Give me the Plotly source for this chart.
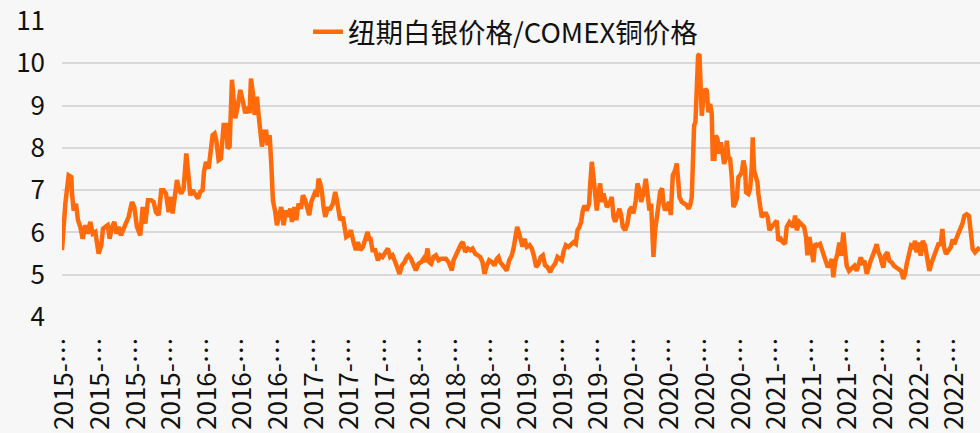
import pandas as pd
import plotly.graph_objects as go

# ---- data: silver / copper price ratio ----
# day offsets (calendar days since the first observation) and ratio values
days_a = [0,10,20,28,30,35,42,48,55,62,70,77,85,92,100,105,110,118,123,130,137,143,150,157,163,170,177,185,192,200,210,217,225,235,242,250,258,268,275,282,290,298,305,312,320,327,332,338,345,352,358,365,373,380,385,392,400,408,415,422,426,432,440,445,452,458]
vals_a = [5.58,6.68,7.35,7.31,6.92,6.52,6.68,6.29,6.13,5.85,6.17,5.97,6.25,5.97,6.01,5.77,5.5,5.7,6.09,6.13,6.17,5.85,6.13,6.25,5.97,6.13,5.93,6.09,6.21,6.37,6.72,6.6,6.13,5.93,6.6,6.21,6.76,6.76,6.72,6.48,6.41,7.0,7.0,6.92,6.48,6.84,6.45,6.84,7.24,7.0,6.92,7.04,7.87,7.31,6.88,7.0,6.92,6.8,6.96,7.0,7.43,7.67,7.51,7.91,8.3,8.34]

days_b = [463,470,477,485,493,497,503,510,515,520,527,535,542,550,557,563,567,573,578,585,590,595,600,607,613,617,623,628,633,640,645,652,658,665,672,678,685,690,697,703,710,717,723,730,735,742,748,755,762,765,770,775,780,785,790,797,805,813,820,825,830,835,843,848,853,860,867,875,882,888,895,903,910,917,923]
vals_b = [8.18,7.71,7.75,8.54,8.54,7.99,8.03,9.61,9.21,8.7,8.97,9.37,9.13,8.82,8.97,8.82,9.64,9.29,8.78,9.21,8.78,8.46,8.03,8.38,8.38,8.06,8.3,7.63,6.76,6.48,6.17,6.41,6.6,6.17,6.52,6.37,6.56,6.25,6.6,6.29,6.68,6.56,6.88,6.76,6.6,6.41,6.72,6.84,7.0,6.84,7.27,7.16,6.96,6.6,6.37,6.56,6.56,6.68,6.96,6.76,6.45,6.29,6.37,6.13,5.89,5.93,6.05,5.77,5.58,5.77,5.58,5.66,5.89,6.01,5.81]

days_c = [925,932,940,948,955,962,970,978,985,992,1000,1007,1013,1020,1028,1035,1040,1047,1055,1062,1070,1078,1085,1090,1097,1102,1108,1115,1122,1130,1138,1145,1152,1160,1165,1170,1175,1182,1190,1198,1203,1210,1218,1225,1232,1240,1248,1255,1262,1268,1275,1282,1290,1298,1305,1310,1315,1322,1330,1335,1342,1350,1356,1360,1366,1372,1377,1382,1388]
vals_c = [5.89,5.58,5.58,5.34,5.46,5.42,5.54,5.62,5.42,5.46,5.3,5.18,5.02,5.22,5.3,5.42,5.46,5.38,5.22,5.1,5.26,5.3,5.38,5.3,5.62,5.3,5.26,5.42,5.46,5.34,5.38,5.38,5.38,5.3,5.18,5.1,5.34,5.46,5.62,5.73,5.77,5.54,5.62,5.58,5.62,5.5,5.46,5.42,5.3,5.02,5.22,5.34,5.3,5.22,5.38,5.42,5.3,5.22,5.14,5.1,5.34,5.46,5.66,5.89,6.13,5.97,5.81,5.66,5.85]

days_d = [1395,1403,1410,1417,1423,1430,1437,1443,1450,1457,1465,1472,1480,1487,1493,1500,1505,1512,1520,1527,1535,1542,1547,1553,1558,1563,1568,1575,1582,1585,1590,1595,1600,1605,1610,1615,1620,1625,1630,1635,1643,1650,1655,1660,1667,1673,1678,1683,1690,1697,1703,1710,1715,1722,1727,1733,1738,1745,1752,1757,1763,1768,1773,1775,1780,1785,1790,1795,1801,1805,1810,1815,1822,1827,1833,1840,1845,1850,1853]
vals_d = [5.66,5.7,5.62,5.42,5.18,5.26,5.42,5.46,5.22,5.18,5.06,5.18,5.26,5.42,5.38,5.34,5.54,5.7,5.66,5.7,5.77,5.73,6.05,6.13,6.25,6.52,6.64,6.52,6.68,7.12,7.67,7.31,6.84,6.52,6.92,7.16,6.72,6.92,6.76,6.6,6.68,6.84,6.37,6.25,6.41,6.56,6.41,6.13,6.05,6.21,6.52,6.6,6.45,6.76,7.16,7.0,6.72,6.92,7.27,6.84,6.52,6.68,5.81,5.42,6.05,6.45,6.64,6.96,7.04,6.68,6.52,6.6,6.72,6.41,7.35,7.47,7.63,7.16,6.84]

days_e = [1860,1867,1875,1880,1885,1890,1893,1897,1901,1905,1909,1913,1917,1920,1925,1930,1935,1940,1945,1950,1953,1958,1962,1967,1973,1977,1982,1987,1992,1995,2000,2005,2010,2015,2020,2025,2030,2035,2040,2045,2050,2053,2060,2065,2070,2073,2077,2083,2087,2090,2095,2100,2107,2113,2118,2123,2130,2137,2145,2150,2157,2163,2170,2175,2183,2190,2195,2200,2205,2213,2220,2227,2233,2237,2243,2250,2255,2260,2267,2275,2280,2285,2292,2298]
vals_e = [6.72,6.68,6.64,6.56,6.64,6.83,8.02,8.53,8.61,9.28,10.18,10.22,9.35,8.76,9.2,9.39,9.35,8.84,9.04,8.8,7.74,7.74,8.29,8.21,7.86,8.13,7.9,7.62,7.78,8.17,7.78,7.74,7.31,6.6,6.68,6.8,7.31,7.35,7.43,7.7,7.5,6.95,6.91,7.03,7.54,8.25,7.46,7.31,7.19,6.91,6.56,6.36,6.44,6.44,6.36,6.05,6.13,6.2,6.28,5.81,5.85,5.77,5.73,6.13,6.24,6.17,6.13,6.4,6.05,6.24,6.17,6.13,5.89,5.46,5.89,5.5,5.3,5.73,5.69,5.73,5.61,5.46,5.34,5.18]

days_f = [2305,2310,2315,2320,2327,2333,2338,2345,2350,2355,2362,2370,2378,2385,2390,2397,2402,2408,2415,2420,2427,2433,2440,2445,2450,2455,2460,2465,2470,2477,2483,2490,2497,2503,2510,2518,2525,2530,2535,2542,2548,2555,2560,2565,2570,2577,2583,2590,2597,2603,2610,2617,2623,2630,2637,2642,2647,2653,2660,2667,2673,2678,2683,2690,2697,2702,2708,2715,2722,2728,2733,2740,2747,2754]
vals_f = [5.25,5.37,4.94,5.29,5.49,5.76,5.45,6.0,5.57,5.21,5.09,5.17,5.21,5.09,5.25,5.41,5.29,5.33,5.02,5.17,5.33,5.45,5.61,5.72,5.53,5.45,5.29,5.17,5.45,5.53,5.33,5.29,5.21,5.17,5.13,5.09,4.9,5.02,5.25,5.53,5.69,5.65,5.8,5.53,5.76,5.45,5.8,5.69,5.33,5.09,5.29,5.45,5.57,5.72,5.72,6.08,5.65,5.49,5.57,5.65,5.84,5.72,5.84,5.96,6.08,6.2,6.39,6.43,6.39,5.96,5.61,5.53,5.61,5.65]

tick_labels = (["2015-…"] * 4 + ["2016-…"] * 3 + ["2017-…"] * 3 + ["2018-…"] * 3 +
               ["2019-…"] * 3 + ["2020-…"] * 4 + ["2021-…"] * 3 + ["2022-…"] * 3)

series_name = "纽期白银价格/COMEX铜价格"
start_date = pd.Timestamp("2015-01-05")

# ---- assemble ----
days = days_a + days_b + days_c + days_d + days_e + days_f
vals = vals_a + vals_b + vals_c + vals_d + vals_e + vals_f
assert len(days) == len(vals)
dates = start_date + pd.to_timedelta(days, unit="D")

label_step = 106.8   # days between category labels
label_shift = 9      # small offset so rotated labels centre like the original
tickvals = [start_date + pd.Timedelta(days=k * label_step + label_shift)
            for k in range(len(tick_labels))]
x_end = start_date + pd.Timedelta(days=2755)

FONT = "Noto Sans CJK SC"
BG = "#F7F7F7"
fig = go.Figure()
fig.add_trace(go.Scatter(
    x=dates, y=vals, mode="lines", name=series_name,
    line=dict(color="#FF6A0A", width=4.5),
))

fig.update_layout(
    width=980, height=433,
    margin=dict(l=62, r=0, t=21, b=116),
    paper_bgcolor=BG, plot_bgcolor=BG,
    font=dict(family=FONT, size=26, color="#111111"),
    showlegend=True,
    legend=dict(orientation="h", x=0.268, y=0.963, xanchor="left", yanchor="middle",
                bgcolor="rgba(0,0,0,0)", font=dict(size=27.5, family=FONT)),
)
fig.update_yaxes(range=[4, 11], dtick=1, showgrid=True, gridcolor="#D9D9D9", gridwidth=1.5,
                 zeroline=False, showline=False, ticks="", ticklabelstandoff=16,
                 tickfont=dict(size=26, family=FONT))
fig.update_xaxes(type="date", range=[start_date, x_end], showgrid=False, zeroline=False,
                 showline=False, ticks="", tickmode="array", tickvals=tickvals,
                 ticktext=tick_labels, tickangle=-90, ticklabelstandoff=14,
                 tickfont=dict(size=26, family=FONT))

fig.write_html("out.html",
               config={"displayModeBar": False},
               post_script="document.body.style.margin='0px';"
                           "document.body.style.background='" + BG + "';")
